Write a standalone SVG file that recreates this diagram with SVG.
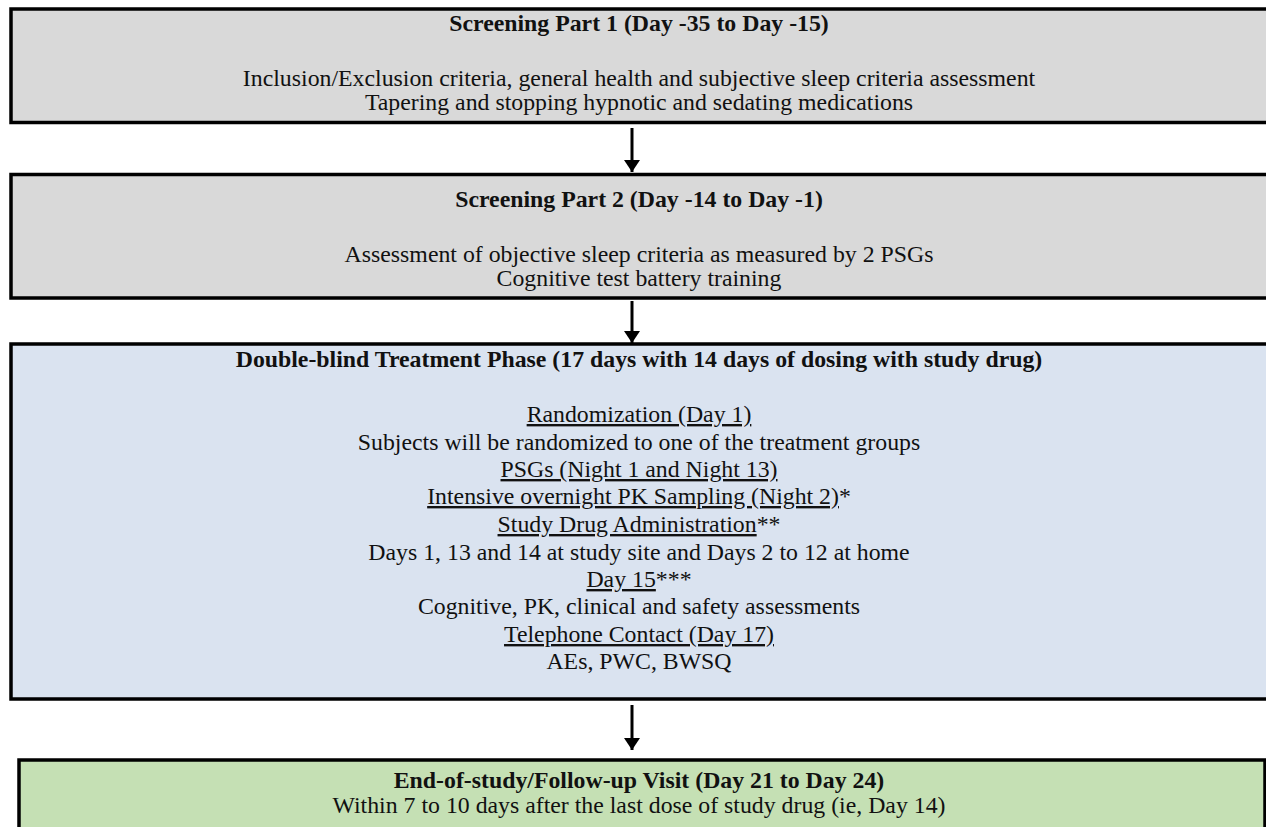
<svg xmlns="http://www.w3.org/2000/svg" width="1266" height="827" viewBox="0 0 1266 827">
<style>
.box{stroke:#000;stroke-width:3.5}
.g{fill:#d9d9d9}
.b{fill:#dae3f0}
.gr{fill:#c5e0b4}
text{font-family:"Liberation Serif","Times New Roman",serif;font-size:23.8px;fill:#111;text-anchor:middle}
.t{font-weight:bold}
.u{text-decoration:underline}
.conn{stroke:#000;stroke-width:3;fill:none}
</style>
<defs>
<marker id="ah" markerWidth="12" markerHeight="16" refX="12" refY="8" orient="auto" markerUnits="userSpaceOnUse" viewBox="0 0 12 16">
<path d="M0,0 L12,8 L0,16 Z" fill="#000"/>
</marker>
</defs>
<rect width="1266" height="827" fill="#fff"/>
<g id="screening1">
<rect class="box g" x="11" y="9" width="1270" height="113.5"/>
<text class="t" x="639" y="31">Screening Part 1 (Day -35 to Day -15)</text>
<text x="639" y="86">Inclusion/Exclusion criteria, general health and subjective sleep criteria assessment</text>
<text x="639" y="110">Tapering and stopping hypnotic and sedating medications</text>
</g>
<g id="screening2">
<rect class="box g" x="11" y="174.5" width="1270" height="123.5"/>
<text class="t" x="639" y="207">Screening Part 2 (Day -14 to Day -1)</text>
<text x="639" y="262">Assessment of objective sleep criteria as measured by 2 PSGs</text>
<text x="639" y="286">Cognitive test battery training</text>
</g>
<g id="treatment">
<rect class="box b" x="11" y="344" width="1270" height="355"/>
<text class="t" x="639" y="367">Double-blind Treatment Phase (17 days with 14 days of dosing with study drug)</text>
<text x="639" y="422"><tspan class="u">Randomization (Day 1)</tspan></text>
<text x="639" y="450">Subjects will be randomized to one of the treatment groups</text>
<text x="639" y="477"><tspan class="u">PSGs (Night 1 and Night 13)</tspan></text>
<text x="639" y="504"><tspan class="u">Intensive overnight PK Sampling (Night 2)</tspan>*</text>
<text x="639" y="532"><tspan class="u">Study Drug Administration</tspan>**</text>
<text x="639" y="560">Days 1, 13 and 14 at study site and Days 2 to 12 at home</text>
<text x="639" y="587"><tspan class="u">Day 15</tspan>***</text>
<text x="639" y="614">Cognitive, PK, clinical and safety assessments</text>
<text x="639" y="642"><tspan class="u">Telephone Contact (Day 17)</tspan></text>
<text x="639" y="669">AEs, PWC, BWSQ</text>
</g>
<g id="followup">
<rect class="box gr" x="19" y="760" width="1246" height="90"/>
<text class="t" x="639" y="788">End-of-study/Follow-up Visit (Day 21 to Day 24)</text>
<text x="639" y="813">Within 7 to 10 days after the last dose of study drug (ie, Day 14)</text>
</g>
<g id="connectors">
<line class="conn" x1="632" y1="128" x2="632" y2="172" marker-end="url(#ah)"/>
<line class="conn" x1="632" y1="301" x2="632" y2="343" marker-end="url(#ah)"/>
<line class="conn" x1="632" y1="705" x2="632" y2="750" marker-end="url(#ah)"/>
</g>
</svg>
